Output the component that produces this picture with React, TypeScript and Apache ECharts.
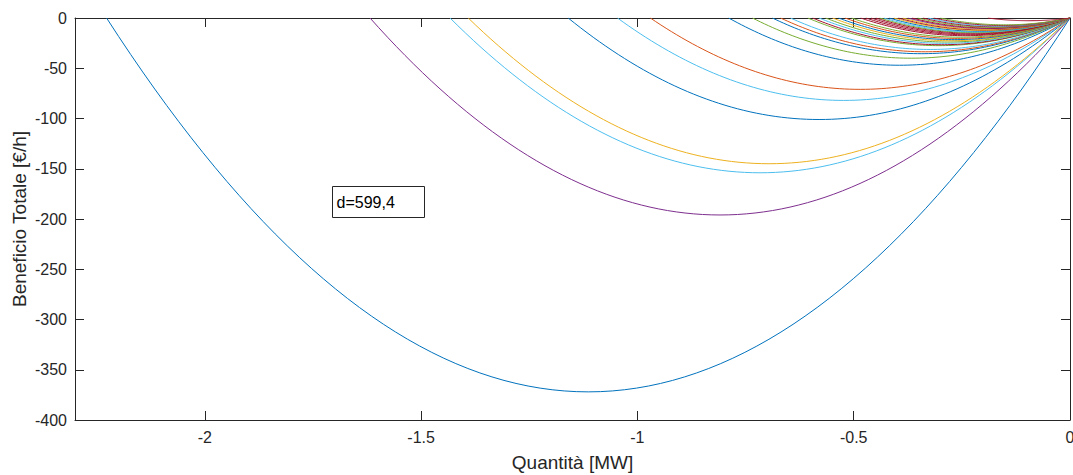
import React, { useEffect, useRef } from "react";
import * as echarts from "echarts";

// Roots (Quantità where the curve returns to 0) and depths (minimum value)
const roots = [
  -2.227, -1.618, -1.433, -1.391, -1.16, -1.046, -0.97, -0.789, -0.734, -0.688,
  -0.669, -0.646, -0.606, -0.595, -0.58, -0.565, -0.549, -0.535, -0.52, -0.505,
  -0.484, -0.472, -0.46, -0.449, -0.44, -0.43, -0.418, -0.407, -0.397, -0.387,
  -0.375, -0.365, -0.352, -0.34, -0.328, -0.315, -0.3, -0.19,
];
const depths = [
  372, 196, 154, 145, 101, 82, 71, 47, 40, 35.5,
  33.6, 31.3, 27.5, 26.6, 25.2, 23.9, 22.6, 21.5, 20.3, 19.1,
  17.6, 16.7, 15.9, 15.1, 14.5, 13.9, 13.1, 12.4, 11.8, 11.2,
  10.5, 10.0, 9.3, 8.7, 8.1, 7.4, 6.8, 2.7,
];
const curveColors = [
  "B", "P", "L", "O", "B", "L", "R", "B", "G", "B",
  "R", "L", "G", "D", "L", "G", "O", "B", "R", "G",
  "D", "D", "D", "D", "G", "L", "B", "O", "D", "O",
  "P", "D", "G", "D", "L", "D", "G", "D",
];
const palette: Record<string, string> = {
  B: "#0072BD",
  R: "#D95319",
  O: "#EDB120",
  P: "#7E2F8E",
  G: "#77AC30",
  L: "#4DBEEE",
  D: "#A2142F",
};
const xTicks = [-2, -1.5, -1, -0.5, 0];
const annotation = "d=599,4";

function curve(root: number, depth: number): number[][] {
  const n = 80;
  const h = root / 2;
  const pts: number[][] = [];
  for (let i = 0; i <= n; i++) {
    const x = root + (0 - root) * (i / n);
    const t = (x - h) / h;
    pts.push([x, -depth * (1 - t * t)]);
  }
  return pts;
}

export default function App() {
  const ref = useRef<HTMLDivElement>(null);
  useEffect(() => {
    if (!ref.current) return;
    const chart = echarts.init(ref.current, null, { renderer: "svg" });
    const font = "Liberation Sans, Arial, Helvetica, sans-serif";
    const axisLine = { show: true, onZero: false, lineStyle: { color: "#262626", width: 1 } };
    const tick = { show: true, inside: true, length: 9, lineStyle: { color: "#262626", width: 1 } };
    const series: any[] = roots.map((r, i) => ({
      type: "line",
      data: curve(r, depths[i]),
      showSymbol: false,
      symbol: "none",
      xAxisIndex: 0,
      yAxisIndex: 0,
      lineStyle: { color: palette[curveColors[i]], width: 1 },
      itemStyle: { color: palette[curveColors[i]] },
      clip: true,
      silent: true,
    }));
    chart.setOption({
      animation: false,
      backgroundColor: "#ffffff",
      grid: {
        left: 75,
        right: 3,
        top: 18,
        bottom: 55,
        containLabel: false,
        outerBoundsMode: "none",
      },
      xAxis: [
        {
          type: "value",
          position: "bottom",
          min: -2.3,
          max: 0,
          name: "Quantità [MW]",
          nameLocation: "middle",
          nameGap: 33,
          nameMoveOverlap: false,
          nameTextStyle: { fontFamily: font, fontSize: 19, color: "#262626" },
          axisLine,
          splitLine: { show: false },
          axisTick: { ...tick, customValues: xTicks },
          axisLabel: {
            customValues: xTicks,
            fontFamily: font,
            fontSize: 16,
            color: "#262626",
            margin: 9,
            formatter: (v: number) => String(v),
          },
        },
        {
          type: "value",
          position: "top",
          min: -2.3,
          max: 0,
          axisLine,
          splitLine: { show: false },
          axisTick: { ...tick, customValues: xTicks },
          axisLabel: { show: false },
        },
      ],
      yAxis: [
        {
          type: "value",
          position: "left",
          min: -400,
          max: 0,
          interval: 50,
          name: "Beneficio Totale [€/h]",
          nameLocation: "middle",
          nameGap: 46,
          nameMoveOverlap: false,
          nameTextStyle: { fontFamily: font, fontSize: 19, color: "#262626" },
          axisLine,
          splitLine: { show: false },
          axisTick: tick,
          axisLabel: { fontFamily: font, fontSize: 16, color: "#262626", margin: 8 },
        },
        {
          type: "value",
          position: "right",
          min: -400,
          max: 0,
          interval: 50,
          axisLine,
          splitLine: { show: false },
          axisTick: tick,
          axisLabel: { show: false },
        },
      ],
      series,
      graphic: [
        {
          type: "group",
          left: 332,
          top: 186,
          z: 100,
          children: [
            {
              type: "rect",
              shape: { x: 0, y: 0, width: 92, height: 31 },
              style: { fill: "#ffffff", stroke: "#262626", lineWidth: 1 },
            },
            {
              type: "text",
              x: 4,
              y: 16,
              style: {
                text: annotation,
                fontFamily: font,
                fontSize: 16,
                fill: "#000000",
                verticalAlign: "middle",
              },
            },
          ],
        },
      ],
    });
    return () => chart.dispose();
  }, []);
  return (
    <div
      ref={ref}
      style={{ position: "fixed", left: 0, top: 0, width: 1073, height: 475 }}
    />
  );
}
